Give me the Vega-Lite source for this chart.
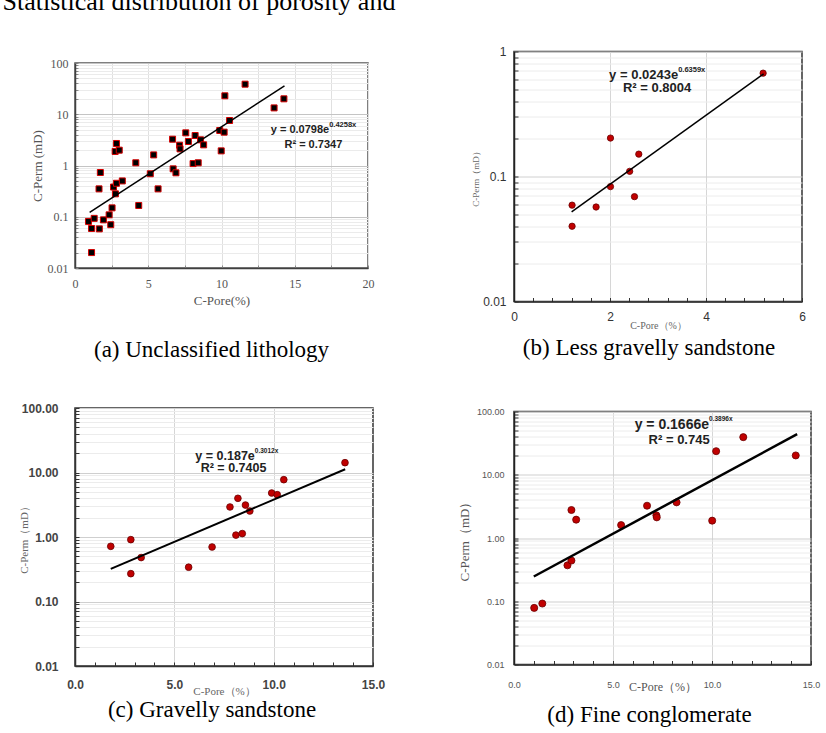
{
  "$schema": "https://vega.github.io/schema/vega-lite/v6.json",
  "background": "white",
  "padding": {"left": 2, "top": -11.5, "right": 0, "bottom": 0},
  "title": {"text": "Statistical distribution of porosity and", "orient": "top", "anchor": "start", "frame": "bounds", "fontSize": 26, "offset": 4.1, "dx": -15.5, "baseline": "bottom"},
  "config": {
    "font": "Liberation Sans",
    "title": {"font": "Liberation Serif", "fontSize": 23, "fontWeight": "normal", "color": "#000000", "frame": "group"},
    "axis": {"labelOverlap": false, "labelFlush": false, "labelBound": false, "titleFontWeight": "normal", "domainWidth": 1.5}
  },
  "datasets": {
    "a_pts": [{"x":0.92,"y":0.081},{"x":1.13,"y":0.059},{"x":1.31,"y":0.093},{"x":1.13,"y":0.020},{"x":1.66,"y":0.058},{"x":1.64,"y":0.35},{"x":1.73,"y":0.73},{"x":1.94,"y":0.087},{"x":2.33,"y":0.109},{"x":2.44,"y":0.070},{"x":2.53,"y":0.149},{"x":2.63,"y":0.38},{"x":2.76,"y":0.28},{"x":2.83,"y":0.45},{"x":2.74,"y":1.88},{"x":2.83,"y":2.69},{"x":3.02,"y":1.99},{"x":3.23,"y":0.50},{"x":4.15,"y":1.13},{"x":4.35,"y":0.166},{"x":5.14,"y":0.69},{"x":5.37,"y":1.61},{"x":5.67,"y":0.35},{"x":6.66,"y":3.26},{"x":6.70,"y":0.86},{"x":6.89,"y":0.72},{"x":7.14,"y":2.49},{"x":7.17,"y":2.11},{"x":7.56,"y":4.34},{"x":7.74,"y":2.94},{"x":8.06,"y":1.09},{"x":8.20,"y":3.85},{"x":8.41,"y":1.13},{"x":8.57,"y":3.17},{"x":8.78,"y":2.53},{"x":9.88,"y":4.82},{"x":10.18,"y":4.47},{"x":9.98,"y":1.93},{"x":10.23,"y":22.9},{"x":10.55,"y":7.55},{"x":11.61,"y":38.6},{"x":13.59,"y":13.3},{"x":14.26,"y":20.0}],
    "a_fit": [{"x":1.0,"y":0.122},{"x":14.3,"y":35.8}],
    "a_txt": [{"part":"main","x":17.35,"y":5.04,"t":"y = 0.0798e"},{"part":"sup","x":17.35,"y":5.04,"t":"0.4258x"},{"part":"r2","x":16.27,"y":2.49,"t":"R² = 0.7347"}],
    "b_pts": [{"x":1.21,"y":0.059},{"x":1.21,"y":0.040},{"x":1.71,"y":0.057},{"x":2.01,"y":0.203},{"x":2.01,"y":0.083},{"x":2.41,"y":0.110},{"x":2.51,"y":0.069},{"x":2.60,"y":0.151},{"x":5.19,"y":0.671}],
    "b_fit": [{"x":1.2,"y":0.0521},{"x":5.2,"y":0.663}],
    "b_txt": [{"part":"main","x":3.42,"y":0.65,"t":"y = 0.0243e"},{"part":"sup","x":3.42,"y":0.65,"t":"0.6359x"},{"part":"r2","x":2.98,"y":0.509,"t":"R² = 0.8004"}],
    "c_pts": [{"x":1.80,"y":0.717},{"x":2.81,"y":0.91},{"x":2.81,"y":0.27},{"x":3.33,"y":0.48},{"x":5.72,"y":0.34},{"x":6.90,"y":0.70},{"x":7.80,"y":2.92},{"x":8.20,"y":3.98},{"x":8.10,"y":1.07},{"x":8.42,"y":1.13},{"x":8.58,"y":3.13},{"x":8.80,"y":2.53},{"x":9.90,"y":4.81},{"x":10.18,"y":4.53},{"x":10.51,"y":7.74},{"x":13.59,"y":14.2}],
    "c_fit": [{"x":1.8,"y":0.321},{"x":13.6,"y":11.24}],
    "c_txt": [{"part":"main","x":9.05,"y":18.0,"t":"y = 0.187e"},{"part":"sup","x":9.05,"y":18.0,"t":"0.3012x"},{"part":"r2","x":7.98,"y":11.7,"t":"R² = 0.7405"}],
    "d_pts": [{"x":1.02,"y":0.0785},{"x":1.43,"y":0.092},{"x":2.70,"y":0.37},{"x":2.90,"y":0.44},{"x":2.90,"y":2.77},{"x":3.14,"y":1.95},{"x":5.41,"y":1.60},{"x":6.72,"y":3.24},{"x":7.19,"y":2.28},{"x":7.21,"y":2.12},{"x":8.21,"y":3.66},{"x":10.01,"y":1.88},{"x":10.21,"y":23.6},{"x":11.58,"y":39.3},{"x":14.23,"y":20.2}],
    "d_fit": [{"x":1.0,"y":0.246},{"x":14.3,"y":43.8}],
    "d_txt": [{"part":"main","x":9.85,"y":61.5,"t":"y = 0.1666e"},{"part":"sup","x":9.85,"y":61.5,"t":"0.3896x"},{"part":"r2","x":8.34,"y":35.7,"t":"R² = 0.745"}]
  },
  "hconcat": [
    {
      "vconcat": [
        {
          "vconcat": [
            {
              "width": 293, "height": 1,
              "data": {"values": [{"k": 0}]},
              "mark": {"type": "point", "opacity": 0, "size": 1},
              "encoding": {},
              "view": {"stroke": null}
            },
            {
              "width": 293, "height": 205,
              "view": {"stroke": "#555555", "strokeWidth": 1.5},
              "title": {"text": "(a) Unclassified lithology", "orient": "bottom", "offset": 31.5, "dx": -10},
              "layer": [
                {
                  "data": {"name": "a_pts"},
                  "mark": {"type": "square", "size": 36, "fill": "#000000", "stroke": "#d40000", "strokeWidth": 1, "opacity": 1},
                  "encoding": {
                    "x": {"field": "x", "type": "quantitative", "scale": {"domain": [0, 20], "nice": false, "zero": false},
                      "axis": {"values": [0,2.5,5,7.5,10,12.5,15,17.5,20], "tickCount": 100, "labelOverlap": false, "format": "~g", "labelExpr": "datum.value % 5 == 0 ? datum.label : ''", "title": "C-Pore(%)", "titleFont": "Liberation Serif", "titleFontSize": 13, "titleColor": "#555555", "titlePadding": 5, "labelFont": "Liberation Serif", "labelFontSize": 12, "labelColor": "#555555", "labelPadding": 13, "tickSize": -3, "tickColor": "#888888", "domainColor": "#404040", "gridColor": "#e0e0e0"}},
                    "y": {"field": "y", "type": "quantitative", "scale": {"type": "log", "domain": [0.01, 100], "nice": false},
                      "axis": {"values": [0.01,0.02,0.03,0.04,0.05,0.06,0.07,0.08,0.09,0.1,0.2,0.3,0.4,0.5,0.6,0.7,0.8,0.9,1,2,3,4,5,6,7,8,9,10,20,30,40,50,60,70,80,90,100], "tickCount": 100, "labelOverlap": false, "format": "~g", "labelExpr": "(datum.value == 0.01 || datum.value == 0.1 || datum.value == 1 || datum.value == 10 || datum.value == 100) ? datum.label : ''", "title": "C-Perm  (mD)", "titleFont": "Liberation Serif", "titleFontSize": 13, "titleColor": "#555555", "titlePadding": 3, "labelFont": "Liberation Serif", "labelFontSize": 12, "labelColor": "#555555", "labelPadding": 10, "tickSize": -3, "tickColor": "#888888", "domainColor": "#404040", "gridColor": {"condition": {"test": "datum.value == 0.01 || datum.value == 0.1 || datum.value == 1 || datum.value == 10 || datum.value == 100", "value": "#c4c4c4"}, "value": "#ebebeb"}}}
                  }
                },
                {
                  "data": {"name": "a_fit"},
                  "mark": {"type": "line", "color": "#000000", "strokeWidth": 1.5},
                  "encoding": {"x": {"field": "x", "type": "quantitative"}, "y": {"field": "y", "type": "quantitative"}}
                },
                {
                  "data": {"name": "a_txt"},
                  "transform": [{"filter": "datum.part == 'main'"}],
                  "mark": {"type": "text", "align": "right", "baseline": "middle", "fontWeight": "bold", "fontSize": 11, "color": "#222222"},
                  "encoding": {"x": {"field": "x", "type": "quantitative"}, "y": {"field": "y", "type": "quantitative"}, "text": {"field": "t"}}
                },
                {
                  "data": {"name": "a_txt"},
                  "transform": [{"filter": "datum.part == 'sup'"}],
                  "mark": {"type": "text", "align": "left", "baseline": "middle", "fontWeight": "bold", "fontSize": 7.5, "dy": -5, "color": "#222222"},
                  "encoding": {"x": {"field": "x", "type": "quantitative"}, "y": {"field": "y", "type": "quantitative"}, "text": {"field": "t"}}
                },
                {
                  "data": {"name": "a_txt"},
                  "transform": [{"filter": "datum.part == 'r2'"}],
                  "mark": {"type": "text", "align": "center", "baseline": "middle", "fontWeight": "bold", "fontSize": 11, "color": "#222222"},
                  "encoding": {"x": {"field": "x", "type": "quantitative"}, "y": {"field": "y", "type": "quantitative"}, "text": {"field": "t"}}
                }
              ]
            }
          ],
          "spacing": 3.5,
          "center": false
        },
        {
          "width": 298, "height": 258,
          "view": {"stroke": "#333333", "strokeWidth": 1.5},
          "title": {"text": "(c) Gravelly sandstone", "orient": "bottom", "offset": 2.5, "dx": -12},
          "layer": [
            {
              "data": {"name": "c_pts"},
              "mark": {"type": "circle", "size": 45, "fill": "#c00000", "stroke": "#6b0000", "strokeWidth": 0.8, "opacity": 1},
              "encoding": {
                "x": {"field": "x", "type": "quantitative", "scale": {"domain": [0, 15], "nice": false, "zero": false},
                  "axis": {"values": [0,1,2,3,4,5,6,7,8,9,10,11,12,13,14,15], "tickCount": 100, "labelOverlap": false, "format": ".1f", "labelExpr": "datum.value % 5 == 0 ? datum.label : ''", "title": "C-Pore（%）", "titleFont": "Liberation Serif", "titleFontSize": 11, "titleColor": "#666666", "titlePadding": -4.5, "labelFontSize": 12, "labelFontWeight": "bold", "labelColor": "#444444", "labelPadding": 17, "tickSize": -4, "tickColor": "#333333", "domainColor": "#333333", "gridColor": {"condition": {"test": "datum.value == 5 || datum.value == 10", "value": "#d6d6d6"}, "value": "transparent"}}},
                "y": {"field": "y", "type": "quantitative", "scale": {"type": "log", "domain": [0.01, 100], "nice": false},
                  "axis": {"values": [0.01,0.02,0.03,0.04,0.05,0.06,0.07,0.08,0.09,0.1,0.2,0.3,0.4,0.5,0.6,0.7,0.8,0.9,1,2,3,4,5,6,7,8,9,10,20,30,40,50,60,70,80,90,100], "tickCount": 100, "labelOverlap": false, "format": ".2f", "labelExpr": "(datum.value == 0.01 || datum.value == 0.1 || datum.value == 1 || datum.value == 10 || datum.value == 100) ? datum.label : ''", "title": "C-Perm（mD）", "titleFont": "Liberation Serif", "titleFontSize": 11, "titleColor": "#666666", "titlePadding": -8.5, "labelFontSize": 12, "labelFontWeight": "bold", "labelColor": "#444444", "labelPadding": 21, "tickSize": -4, "tickColor": "#333333", "domainColor": "#333333", "gridColor": {"condition": {"test": "datum.value == 0.01 || datum.value == 0.1 || datum.value == 1 || datum.value == 10 || datum.value == 100", "value": "#cfcfcf"}, "value": "#ececec"}}}
              }
            },
            {
              "data": {"name": "c_fit"},
              "mark": {"type": "line", "color": "#000000", "strokeWidth": 2},
              "encoding": {"x": {"field": "x", "type": "quantitative"}, "y": {"field": "y", "type": "quantitative"}}
            },
            {
              "data": {"name": "c_txt"},
              "transform": [{"filter": "datum.part == 'main'"}],
              "mark": {"type": "text", "align": "right", "baseline": "middle", "fontWeight": "bold", "fontSize": 12.5, "color": "#222222"},
              "encoding": {"x": {"field": "x", "type": "quantitative"}, "y": {"field": "y", "type": "quantitative"}, "text": {"field": "t"}}
            },
            {
              "data": {"name": "c_txt"},
              "transform": [{"filter": "datum.part == 'sup'"}],
              "mark": {"type": "text", "align": "left", "baseline": "middle", "fontWeight": "bold", "fontSize": 6.5, "dy": -5, "color": "#222222"},
              "encoding": {"x": {"field": "x", "type": "quantitative"}, "y": {"field": "y", "type": "quantitative"}, "text": {"field": "t"}}
            },
            {
              "data": {"name": "c_txt"},
              "transform": [{"filter": "datum.part == 'r2'"}],
              "mark": {"type": "text", "align": "center", "baseline": "middle", "fontWeight": "bold", "fontSize": 12.5, "color": "#222222"},
              "encoding": {"x": {"field": "x", "type": "quantitative"}, "y": {"field": "y", "type": "quantitative"}, "text": {"field": "t"}}
            }
          ]
        }
      ],
      "spacing": 38.5,
      "center": false
    },
    {
      "vconcat": [
        {
          "width": 288, "height": 250,
          "view": {"stroke": "#333333", "strokeWidth": 1.5},
          "title": {"text": "(b) Less gravelly sandstone", "orient": "bottom", "offset": 6, "dx": -9},
          "layer": [
            {
              "data": {"name": "b_pts"},
              "mark": {"type": "circle", "size": 40, "fill": "#c00000", "stroke": "#6b0000", "strokeWidth": 0.8, "opacity": 1},
              "encoding": {
                "x": {"field": "x", "type": "quantitative", "scale": {"domain": [0, 6], "nice": false, "zero": false},
                  "axis": {"values": [0,0.4,0.8,1.2,1.6,2,2.4,2.8,3.2,3.6,4,4.4,4.8,5.2,5.6,6], "tickCount": 100, "labelOverlap": false, "format": "~g", "labelExpr": "(datum.value == 0 || datum.value == 2 || datum.value == 4 || datum.value == 6) ? datum.label : ''", "title": "C-Pore（%）", "titleFont": "Liberation Serif", "titleFontSize": 10, "titleColor": "#666666", "titlePadding": -2, "labelFontSize": 12, "labelColor": "#333333", "labelPadding": 14, "tickSize": -4, "tickColor": "#333333", "domainColor": "#222222", "gridColor": {"condition": {"test": "datum.value == 2 || datum.value == 4", "value": "#d6d6d6"}, "value": "transparent"}}},
                "y": {"field": "y", "type": "quantitative", "scale": {"type": "log", "domain": [0.01, 1], "nice": false},
                  "axis": {"values": [0.01,0.02,0.03,0.04,0.05,0.06,0.07,0.08,0.09,0.1,0.2,0.3,0.4,0.5,0.6,0.7,0.8,0.9,1], "tickCount": 100, "labelOverlap": false, "format": "~g", "labelExpr": "(datum.value == 0.01 || datum.value == 0.1 || datum.value == 1) ? datum.label : ''", "title": "C-Perm（mD）", "titleFont": "Liberation Serif", "titleFontSize": 9, "titleColor": "#666666", "titlePadding": 2, "labelFontSize": 12, "labelColor": "#333333", "labelPadding": 12, "tickSize": -4, "tickColor": "#333333", "domainColor": "#222222", "gridColor": {"condition": {"test": "datum.value == 0.01 || datum.value == 0.1 || datum.value == 1", "value": "#d0d0d0"}, "value": "#ececec"}}}
              }
            },
            {
              "data": {"name": "b_fit"},
              "mark": {"type": "line", "color": "#000000", "strokeWidth": 1.5},
              "encoding": {"x": {"field": "x", "type": "quantitative"}, "y": {"field": "y", "type": "quantitative"}}
            },
            {
              "data": {"name": "b_txt"},
              "transform": [{"filter": "datum.part == 'main'"}],
              "mark": {"type": "text", "align": "right", "baseline": "middle", "fontWeight": "bold", "fontSize": 13, "color": "#222222"},
              "encoding": {"x": {"field": "x", "type": "quantitative"}, "y": {"field": "y", "type": "quantitative"}, "text": {"field": "t"}}
            },
            {
              "data": {"name": "b_txt"},
              "transform": [{"filter": "datum.part == 'sup'"}],
              "mark": {"type": "text", "align": "left", "baseline": "middle", "fontWeight": "bold", "fontSize": 7.5, "dy": -5, "color": "#222222"},
              "encoding": {"x": {"field": "x", "type": "quantitative"}, "y": {"field": "y", "type": "quantitative"}, "text": {"field": "t"}}
            },
            {
              "data": {"name": "b_txt"},
              "transform": [{"filter": "datum.part == 'r2'"}],
              "mark": {"type": "text", "align": "center", "baseline": "middle", "fontWeight": "bold", "fontSize": 13, "color": "#222222"},
              "encoding": {"x": {"field": "x", "type": "quantitative"}, "y": {"field": "y", "type": "quantitative"}, "text": {"field": "t"}}
            }
          ]
        },
        {
          "width": 297, "height": 253,
          "view": {"stroke": "#333333", "strokeWidth": 1.5},
          "title": {"text": "(d) Fine conglomerate", "orient": "bottom", "offset": 11, "dx": -13},
          "layer": [
            {
              "data": {"name": "d_pts"},
              "mark": {"type": "circle", "size": 50, "fill": "#c00000", "stroke": "#6b0000", "strokeWidth": 0.8, "opacity": 1},
              "encoding": {
                "x": {"field": "x", "type": "quantitative", "scale": {"domain": [0, 15], "nice": false, "zero": false},
                  "axis": {"values": [0,1,2,3,4,5,6,7,8,9,10,11,12,13,14,15], "tickCount": 100, "labelOverlap": false, "format": ".1f", "labelExpr": "datum.value % 5 == 0 ? datum.label : ''", "title": "C-Pore（%）", "titleFont": "Liberation Serif", "titleFontSize": 12, "titleColor": "#555555", "titlePadding": -8, "labelFontSize": 9, "labelColor": "#555555", "labelPadding": 20, "tickSize": -4, "tickColor": "#333333", "domainColor": "#222222", "gridColor": {"condition": {"test": "datum.value == 5 || datum.value == 10", "value": "#d6d6d6"}, "value": "transparent"}}},
                "y": {"field": "y", "type": "quantitative", "scale": {"type": "log", "domain": [0.01, 100], "nice": false},
                  "axis": {"values": [0.01,0.02,0.03,0.04,0.05,0.06,0.07,0.08,0.09,0.1,0.2,0.3,0.4,0.5,0.6,0.7,0.8,0.9,1,2,3,4,5,6,7,8,9,10,20,30,40,50,60,70,80,90,100], "tickCount": 100, "labelOverlap": false, "format": ".2f", "labelExpr": "(datum.value == 0.01 || datum.value == 0.1 || datum.value == 1 || datum.value == 10 || datum.value == 100) ? datum.label : ''", "title": "C-Perm（mD）", "titleFont": "Liberation Serif", "titleFontSize": 13, "titleColor": "#555555", "titlePadding": 5, "labelFontSize": 9, "labelColor": "#555555", "labelPadding": 14, "tickSize": -4, "tickColor": "#333333", "domainColor": "#222222", "gridColor": {"condition": {"test": "datum.value == 0.01 || datum.value == 0.1 || datum.value == 1 || datum.value == 10 || datum.value == 100", "value": "#cfcfcf"}, "value": "#ececec"}}}
              }
            },
            {
              "data": {"name": "d_fit"},
              "mark": {"type": "line", "color": "#000000", "strokeWidth": 2.5},
              "encoding": {"x": {"field": "x", "type": "quantitative"}, "y": {"field": "y", "type": "quantitative"}}
            },
            {
              "data": {"name": "d_txt"},
              "transform": [{"filter": "datum.part == 'main'"}],
              "mark": {"type": "text", "align": "right", "baseline": "middle", "fontWeight": "bold", "fontSize": 14, "color": "#222222"},
              "encoding": {"x": {"field": "x", "type": "quantitative"}, "y": {"field": "y", "type": "quantitative"}, "text": {"field": "t"}}
            },
            {
              "data": {"name": "d_txt"},
              "transform": [{"filter": "datum.part == 'sup'"}],
              "mark": {"type": "text", "align": "left", "baseline": "middle", "fontWeight": "bold", "fontSize": 6.5, "dy": -6, "color": "#222222"},
              "encoding": {"x": {"field": "x", "type": "quantitative"}, "y": {"field": "y", "type": "quantitative"}, "text": {"field": "t"}}
            },
            {
              "data": {"name": "d_txt"},
              "transform": [{"filter": "datum.part == 'r2'"}],
              "mark": {"type": "text", "align": "center", "baseline": "middle", "fontWeight": "bold", "fontSize": 13, "color": "#222222"},
              "encoding": {"x": {"field": "x", "type": "quantitative"}, "y": {"field": "y", "type": "quantitative"}, "text": {"field": "t"}}
            }
          ]
        }
      ],
      "spacing": 46,
      "center": false
    }
  ],
  "spacing": 71,
  "center": false
}
